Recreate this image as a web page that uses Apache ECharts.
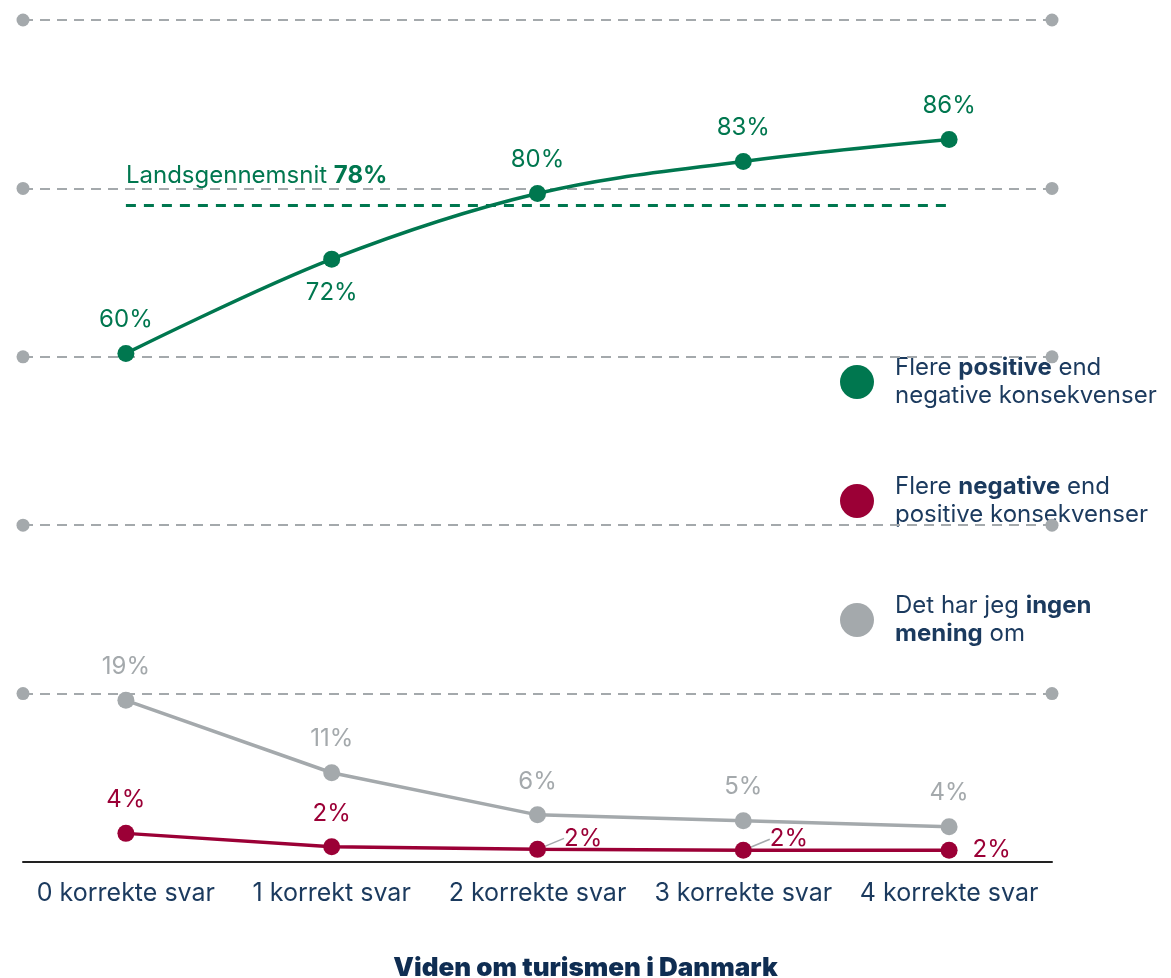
<!DOCTYPE html>
<html>
<head>
<meta charset="utf-8">
<script src="https://cdn.jsdelivr.net/npm/echarts@6/dist/echarts.min.js"></script>
<style>html,body{margin:0;padding:0;background:#fff;}#c{width:1171px;height:978px;}</style>
</head>
<body>
<div id="c"></div>
<script>
const categories = ['0 korrekte svar', '1 korrekt svar', '2 korrekte svar', '3 korrekte svar', '4 korrekte svar'];
const positiveValues = [60.4, 71.6, 79.4, 83.2, 85.8];
const positiveLabels = ['60%', '72%', '80%', '83%', '86%'];
const negativeValues = [3.4, 1.8, 1.5, 1.4, 1.4];
const negativeLabels = ['4%', '2%', '2%', '2%', '2%'];
const neutralValues = [19.2, 10.6, 5.6, 4.9, 4.2];
const neutralLabels = ['19%', '11%', '6%', '5%', '4%'];
const gridTicks = [20, 40, 60, 80, 100];
const nationalAverage = 78;

const GREEN = '#00774f';
const RED = '#9b0036';
const GRAY = '#a4a9ac';
const NAVY = '#1b3a5e';
const FONT = 'Inter';
const LBL = 24;

const chart = echarts.init(document.getElementById('c'), null, {renderer: 'canvas'});

function lbl(arr) { return p => arr[p.dataIndex]; }

chart.setOption({
  animation: false,
  textStyle: {fontFamily: FONT},
  grid: {left: 23, right: 119, top: 20, bottom: 116, containLabel: false},
  title: {
    text: 'Viden om turismen i Danmark',
    left: 'center', top: 950,
    textStyle: {fontFamily: FONT, fontSize: 26, fontWeight: 900, color: '#0f2d52'}
  },
  xAxis: {
    type: 'category', data: categories, boundaryGap: true,
    axisLine: {show: true, lineStyle: {color: '#222', width: 2}},
    axisTick: {show: false},
    axisLabel: {color: NAVY, fontSize: 25, margin: 19, fontFamily: FONT, interval: 0, hideOverlap: false}
  },
  yAxis: {
    type: 'value', min: 0, max: 100, interval: 20,
    axisLine: {show: false}, axisTick: {show: false}, axisLabel: {show: false},
    splitLine: {show: false}
  },
  legend: {
    orient: 'vertical', left: 840, top: 356, padding: 0,
    itemWidth: 34, itemHeight: 34, itemGap: 67, icon: 'circle',
    data: ['positive', 'negative', 'ingen'],
    formatter: function (name) {
      if (name === 'positive') return '{n|Flere }{b|positive}{n| end}\n{n|negative konsekvenser}';
      if (name === 'negative') return '{n|Flere }{b|negative}{n| end}\n{n|positive konsekvenser}';
      return '{n|Det har jeg }{b|ingen}\n{b|mening}{n| om}';
    },
    textStyle: {
      padding: [0, 0, 0, 16],
      rich: {
        n: {fontFamily: FONT, fontSize: 24, color: NAVY, lineHeight: 28},
        b: {fontFamily: FONT, fontSize: 24, color: NAVY, fontWeight: 'bold', lineHeight: 28}
      }
    }
  },
  series: [
    {
      name: 'grid', type: 'line', data: [], z: 1, silent: true,
      markLine: {
        silent: true, symbol: ['circle', 'circle'], symbolSize: 13,
        label: {show: false},
        lineStyle: {color: GRAY, type: [10, 7], width: 2},
        itemStyle: {color: GRAY},
        emphasis: {disabled: true},
        data: gridTicks.map(v => ({yAxis: v}))
      }
    },
    {
      name: 'ingen', type: 'line', data: neutralValues, z: 3,
      color: GRAY, symbol: 'circle', symbolSize: 17,
      lineStyle: {width: 3.5, color: GRAY}, itemStyle: {color: GRAY},
      label: {show: true, position: 'top', distance: 13, formatter: lbl(neutralLabels), color: GRAY, fontSize: LBL, fontFamily: FONT}
    },
    {
      name: 'negative', type: 'line', z: 4,
      data: negativeValues.map((v, i) => {
        if (i === 2 || i === 3) {
          return {
            value: v,
            label: {position: 'right', distance: 2},
            labelLine: {show: true, lineStyle: {color: GRAY, width: 1.5}}
          };
        }
        if (i === 4) {
          return {value: v, label: {position: 'right', distance: 15, offset: [0, 2]}};
        }
        return v;
      }),
      labelLayout: function (p) {
        if (p.seriesIndex === 2 && (p.dataIndex === 2 || p.dataIndex === 3)) {
          return {dx: 16, dy: -11};
        }
        return {};
      },
      color: RED, symbol: 'circle', symbolSize: 17,
      lineStyle: {width: 3.5, color: RED}, itemStyle: {color: RED},
      label: {show: true, position: 'top', distance: 13, formatter: lbl(negativeLabels), color: RED, fontSize: LBL, fontFamily: FONT}
    },
    {
      name: 'positive', type: 'line', z: 5,
      data: positiveValues.map((v, i) => i === 1 ? {value: v, label: {position: 'bottom', distance: 13}} : v),
      color: GREEN, symbol: 'circle', symbolSize: 17, smooth: 0.35,
      lineStyle: {width: 3.5, color: GREEN}, itemStyle: {color: GREEN},
      label: {
        show: true, position: 'top', distance: 13, formatter: lbl(positiveLabels), color: GREEN, fontSize: LBL, fontFamily: FONT
      },
      markLine: {
        silent: true, symbol: ['none', 'none'],
        lineStyle: {color: GREEN, type: [10, 8], width: 3},
        emphasis: {disabled: true},
        label: {
          show: true, position: 'insideStartTop', distance: [0, 17],
          formatter: '{a|Landsgennemsnit }{b|' + nationalAverage + '%}',
          rich: {
            a: {fontFamily: FONT, fontSize: 24, color: GREEN},
            b: {fontFamily: FONT, fontSize: 24, color: GREEN, fontWeight: 'bold'}
          }
        },
        data: [[{coord: [0, nationalAverage]}, {coord: [4, nationalAverage]}]]
      }
    }
  ]
});
</script>
</body>
</html>
